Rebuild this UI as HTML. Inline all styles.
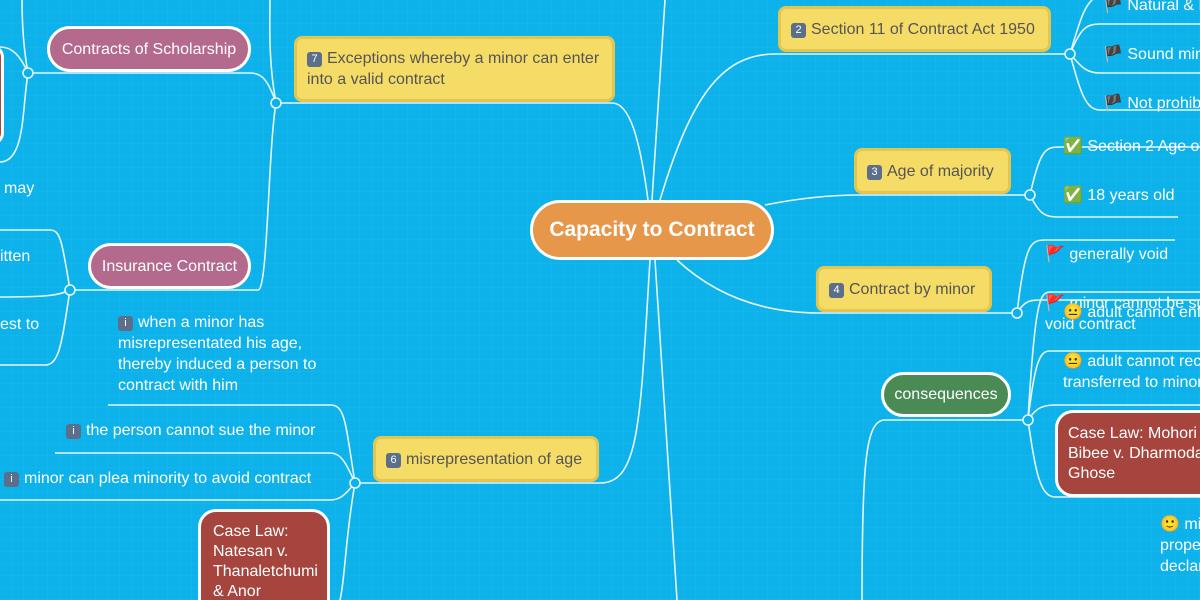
<!DOCTYPE html>
<html><head><meta charset="utf-8"><style>
html,body{margin:0;width:1200px;height:600px;overflow:hidden;}
body{position:relative;background:#0cb2e9;font-family:"Liberation Sans",sans-serif;}
svg{position:absolute;left:0;top:0}
.n{position:absolute;box-sizing:border-box;font-size:16px;line-height:21px;}
.y{background:#f5dc66;border:3px solid #e2c650;border-radius:8px;color:#555;padding:0 10px;display:flex;align-items:center;}
.p{background:#b46a8c;border:3px solid #fff;border-radius:24px;color:#fff;display:flex;align-items:center;justify-content:center;}
.t{color:#fff;white-space:nowrap}
.ic{display:inline-block;width:15px;height:15px;background:#5b6f8a;border-radius:3px;color:#fff;font-size:11px;line-height:15px;text-align:center;vertical-align:1px;margin-right:5px}
</style></head><body>
<svg width="1200" height="600">
<defs><pattern id="g" width="12" height="12" patternUnits="userSpaceOnUse"><path d="M12 0V12H0" fill="none" stroke="#1ab9ee" stroke-width="1"/></pattern></defs>
<rect width="1200" height="600" fill="url(#g)"/>
<g fill="none" stroke="#e6f6fc" stroke-width="1.6">
<path d="M652 200 L665 0"/>
<path d="M648 200 C640 140 630 103 612 103 L276 103"/>
<path d="M660 200 C690 100 720 54 775 54 L1070 54"/>
<path d="M765 205 C800 198 830 195 860 195 L1030 195"/>
<path d="M677 260 C720 300 770 313 820 313 L1017 313"/>
<path d="M650 260 C640 420 640 483 600 483 L355 483"/>
<path d="M655 260 L677 600"/>
<path d="M862 600 C862 460 866 420 885 420 L1028 420"/>
<path d="M1070 54 C1080 20 1085 0 1100 -5"/>
<path d="M1070 54 C1080 30 1085 24 1100 24 L1200 24"/>
<path d="M1070 54 C1080 65 1085 73 1100 73 L1200 73"/>
<path d="M1070 54 C1080 90 1085 110 1100 110 L1200 110"/>
<path d="M1030 195 C1040 150 1045 147 1060 147 L1200 147"/>
<path d="M1030 195 C1040 215 1045 217 1060 217 L1178 217"/>
<path d="M1017 313 C1025 245 1030 240 1045 240 L1175 240"/>
<path d="M1017 313 C1025 300 1030 300 1045 300 L1200 300"/>
<path d="M1028 420 C1035 300 1040 292 1050 292 L1200 292"/>
<path d="M1028 420 C1035 360 1040 351 1050 351 L1200 351"/>
<path d="M1028 420 C1035 410 1040 405 1055 405 L1200 405"/>
<path d="M1028 420 C1035 470 1040 497 1055 497 L1200 497"/>
<path d="M276 103 C268 60 270 20 270 0"/>
<path d="M276 103 C268 80 262 73 250 73 L28 73"/>
<path d="M276 103 C268 150 268 290 258 290 L70 290"/>
<path d="M28 73 C22 40 22 10 22 0"/>
<path d="M28 73 C20 55 12 47 0 47"/>
<path d="M28 73 C22 110 25 162 0 162"/>
<path d="M70 290 C62 240 60 230 50 230 L0 230"/>
<path d="M70 290 C60 295 50 297 0 297"/>
<path d="M70 290 C62 340 60 365 45 365 L0 365"/>
<path d="M355 483 C345 420 345 405 330 405 L108 405"/>
<path d="M355 483 C345 460 340 453 330 453 L55 453"/>
<path d="M355 483 C345 495 340 500 330 500 L0 500"/>
<path d="M355 483 C345 540 345 580 340 600"/>
</g>
<g fill="#0cb2e9" stroke="#e6f6fc" stroke-width="1.6">
<circle cx="276" cy="103" r="5"/><circle cx="28" cy="73" r="5"/><circle cx="70" cy="290" r="5"/><circle cx="355" cy="483" r="5"/>
<circle cx="1070" cy="54" r="5"/><circle cx="1030" cy="195" r="5"/><circle cx="1017" cy="313" r="5"/><circle cx="1028" cy="420" r="5"/>
</g>
</svg>
<div class="n" style="left:-20px;top:45px;width:24px;height:100px;background:#a5453d;border:3px solid #fff;border-radius:14px"></div>
<div class="n" style="left:530px;top:200px;width:244px;height:60px;background:#e6974a;border:3px solid #fff;border-radius:30px;color:#fff;font-weight:bold;font-size:21px;line-height:54px;text-align:center">Capacity to Contract</div>
<div class="n y" style="left:294px;top:36px;width:321px;height:66px"><div><span class="ic">7</span>Exceptions whereby a minor can enter into a valid contract</div></div>
<div class="n y" style="left:778px;top:6px;width:273px;height:46px"><div><span class="ic">2</span>Section 11 of Contract Act 1950</div></div>
<div class="n y" style="left:854px;top:148px;width:157px;height:46px"><div><span class="ic">3</span>Age of majority</div></div>
<div class="n y" style="left:816px;top:266px;width:176px;height:46px"><div><span class="ic">4</span>Contract by minor</div></div>
<div class="n y" style="left:373px;top:436px;width:226px;height:46px"><div><span class="ic">6</span>misrepresentation of age</div></div>
<div class="n p" style="left:47px;top:26px;width:204px;height:46px">Contracts of Scholarship</div>
<div class="n p" style="left:88px;top:243px;width:163px;height:46px">Insurance Contract</div>
<div class="n p" style="left:881px;top:372px;width:130px;height:45px;background:#4a8b55">consequences</div>
<div class="n" style="left:1055px;top:410px;width:170px;height:87px;background:#a5453d;border:3px solid #fff;border-radius:18px;color:#fff;padding:0 10px;line-height:20px;display:flex;align-items:center"><div>Case Law: Mohori<br>Bibee v. Dharmodas<br>Ghose</div></div>
<div class="n" style="left:198px;top:509px;width:132px;height:110px;background:#a5453d;border:3px solid #fff;border-radius:18px;color:#fff;padding:10px 12px;line-height:20px">Case Law:<br>Natesan v.<br>Thanaletchumi<br>&amp; Anor</div>
<div class="n t" style="left:1103px;top:-5px">🏴 Natural &amp; Lawful age</div>
<div class="n t" style="left:1103px;top:44px">🏴 Sound mind</div>
<div class="n t" style="left:1103px;top:93px">🏴 Not prohibited</div>
<div class="n t" style="left:1063px;top:136px">✅ Section 2 Age of Majority</div>
<div class="n t" style="left:1063px;top:185px">✅ 18 years old</div>
<div class="n t" style="left:1045px;top:244px">🚩 generally void</div>
<div class="n t" style="left:1045px;top:293px">🚩 minor cannot be sued</div>
<div class="n t" style="left:1045px;top:314px">void contract</div>
<div class="n t" style="left:1063px;top:302px">😐 adult cannot enforce</div>
<div class="n t" style="left:1063px;top:351px">😐 adult cannot recover<br>transferred to minor</div>
<div class="n t" style="left:1160px;top:514px">🙂 minor<br>property<br>declared</div>
<div class="n t" style="left:4px;top:178px">may</div>
<div class="n t" style="left:0;top:246px">itten</div>
<div class="n t" style="left:0;top:314px">est to</div>
<div class="n t" style="left:118px;top:312px;white-space:normal;width:225px"><span class="ic">i</span>when a minor has misrepresentated his age, thereby induced a person to contract with him</div>
<div class="n t" style="left:66px;top:420px"><span class="ic">i</span>the person cannot sue the minor</div>
<div class="n t" style="left:4px;top:468px"><span class="ic">i</span>minor can plea minority to avoid contract</div>
</body></html>
